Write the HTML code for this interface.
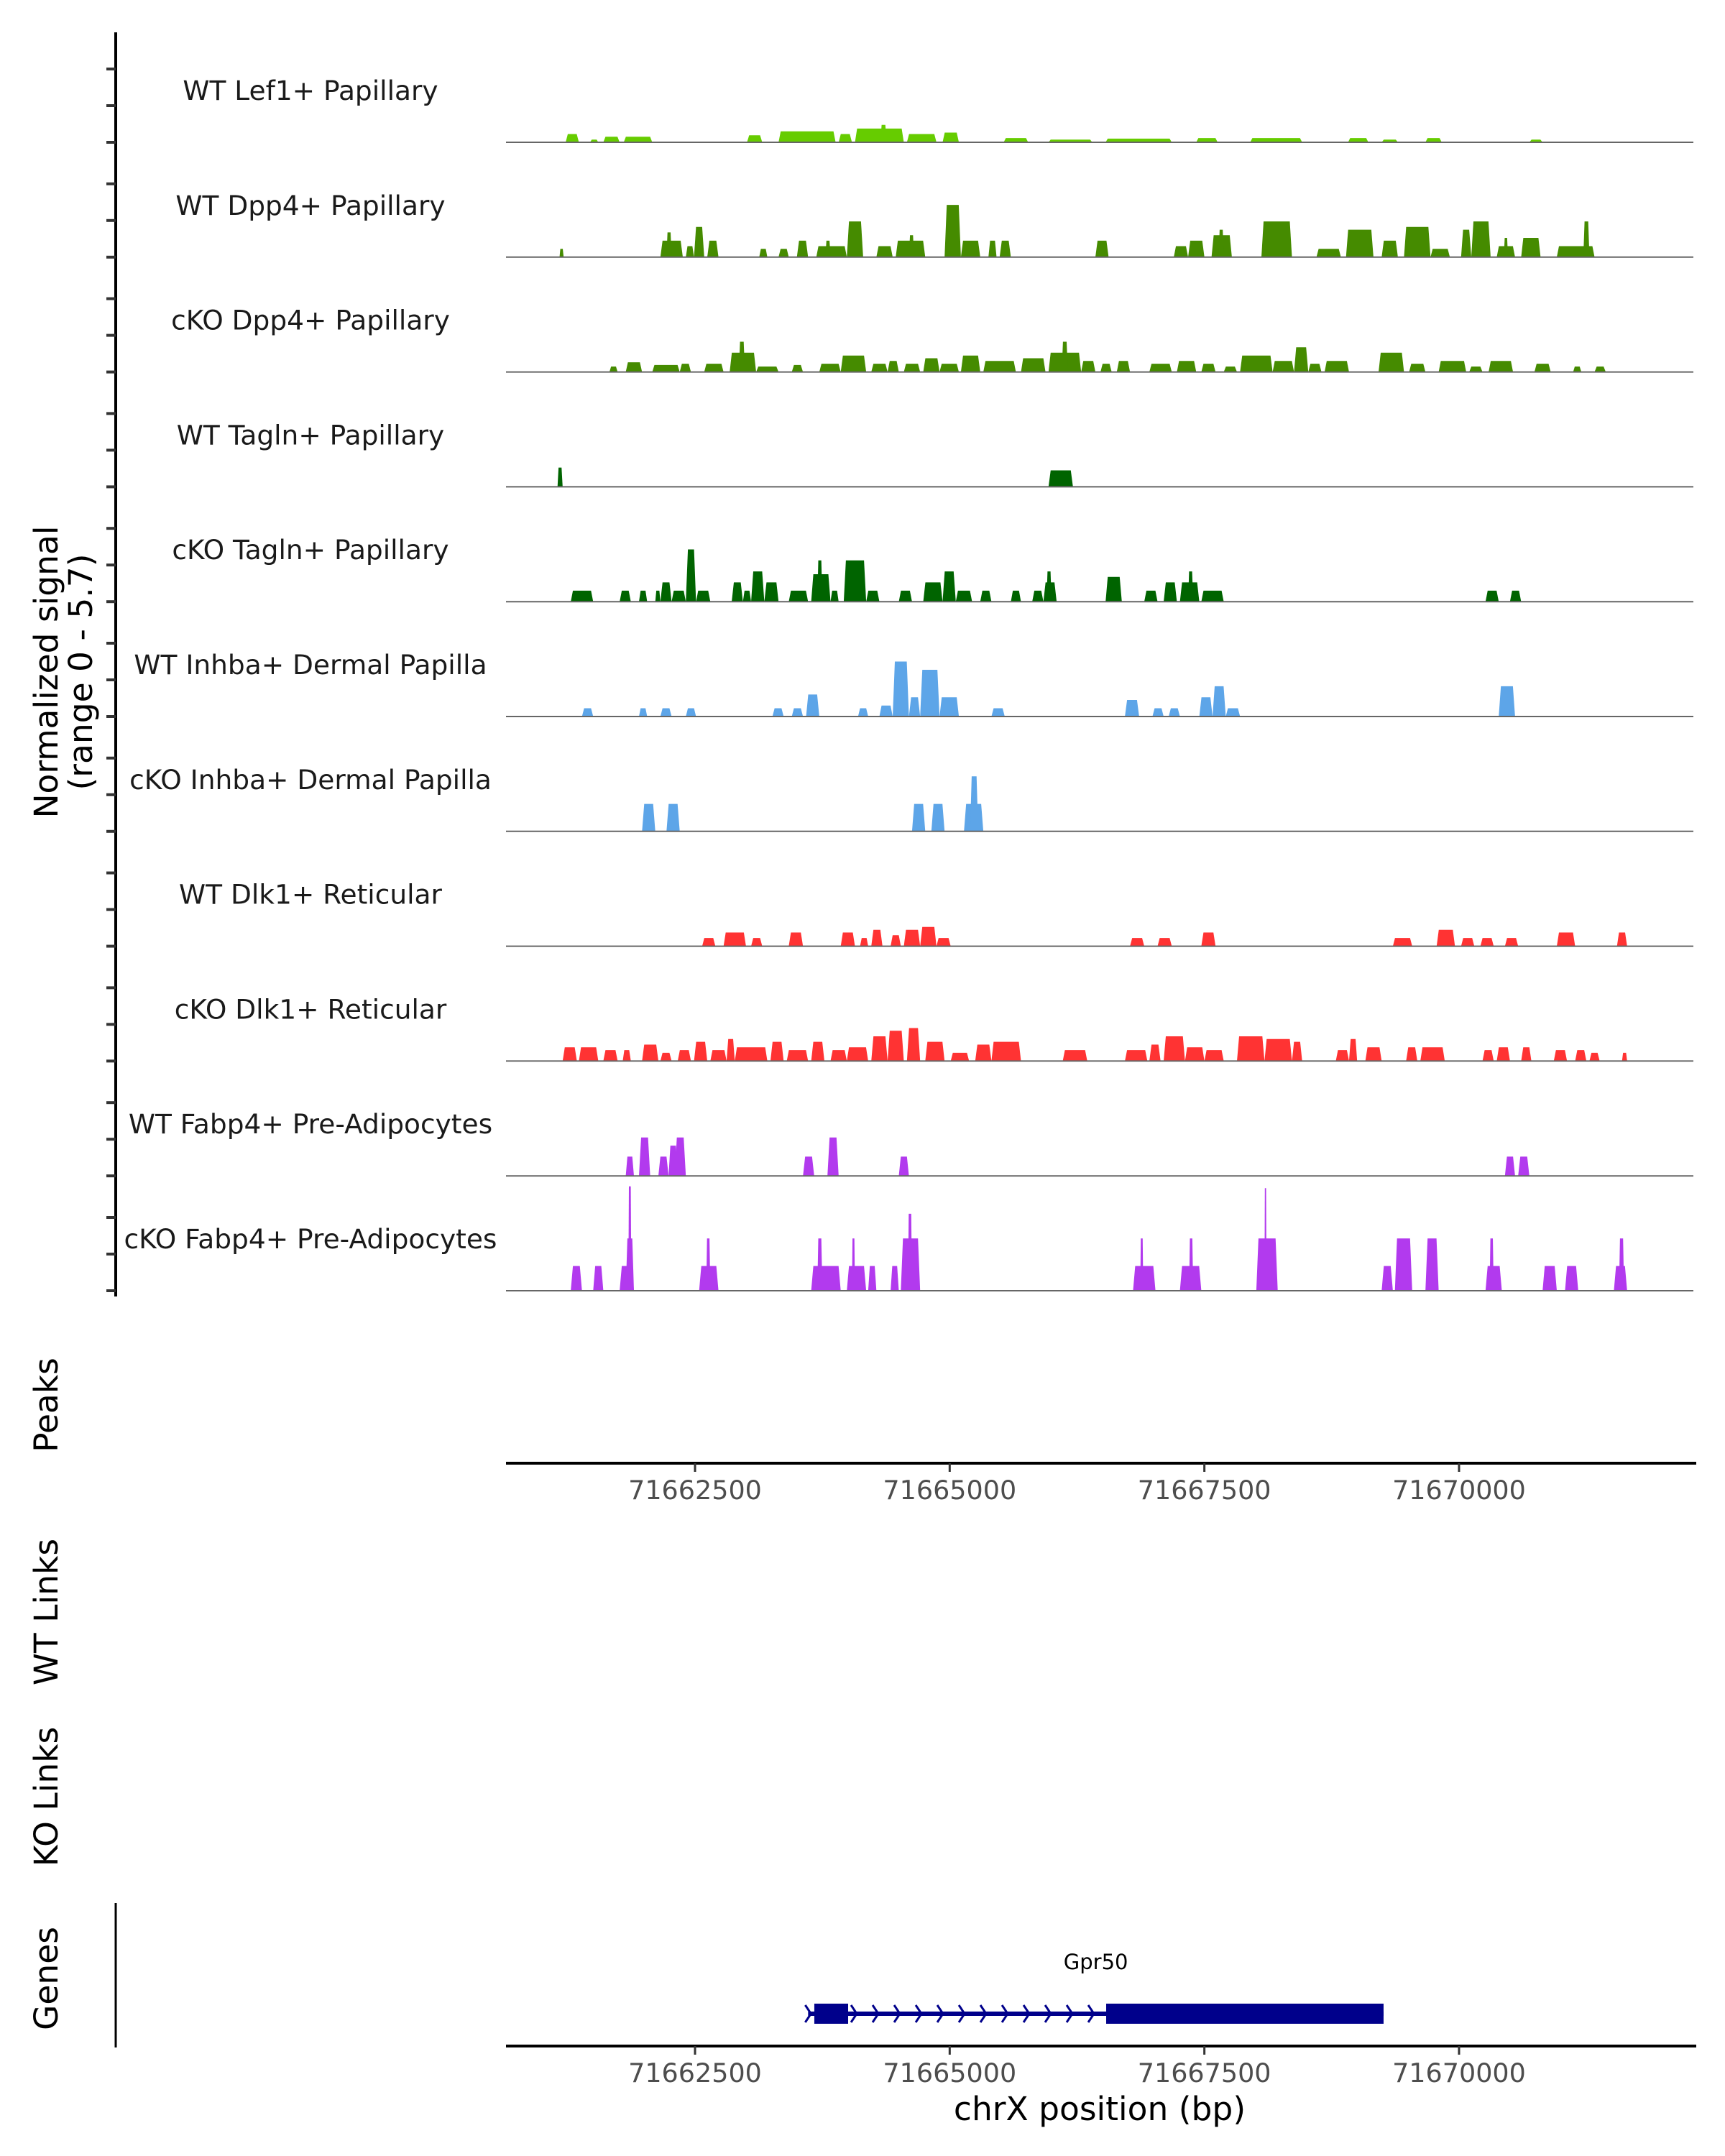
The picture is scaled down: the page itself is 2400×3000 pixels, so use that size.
<!DOCTYPE html>
<html><head><meta charset="utf-8">
<style>
html,body{margin:0;padding:0;background:#fff;}
svg{display:block;font-family:"DejaVu Sans","Liberation Sans",sans-serif;}
</style></head>
<body>
<svg id="chart" width="2400" height="3000" viewBox="0 0 2400 3000" xmlns="http://www.w3.org/2000/svg">
<rect width="2400" height="3000" fill="#fff"/>
<g id="tracks"></g>
<line x1="161" y1="45" x2="161" y2="1804" stroke="#000" stroke-width="4"/>
<g id="yticks"></g>
<text transform="translate(80,935) rotate(-90)" text-anchor="middle" font-size="45.5" fill="#000">Normalized signal</text>
<text transform="translate(128,935) rotate(-90)" text-anchor="middle" font-size="45.5" fill="#000">(range 0 - 5.7)</text>
<text transform="translate(80,1955) rotate(-90)" text-anchor="middle" font-size="45.5" fill="#000">Peaks</text>
<text transform="translate(80,2243) rotate(-90)" text-anchor="middle" font-size="45.5" fill="#000">WT Links</text>
<text transform="translate(80,2500) rotate(-90)" text-anchor="middle" font-size="45.5" fill="#000">KO Links</text>
<text transform="translate(80,2753) rotate(-90)" text-anchor="middle" font-size="45.5" fill="#000">Genes</text>
<line x1="161" y1="2648" x2="161" y2="2849" stroke="#000" stroke-width="3"/>
<line x1="704" y1="2036" x2="2360" y2="2036" stroke="#000" stroke-width="4"/>
<line x1="704" y1="2847" x2="2360" y2="2847" stroke="#000" stroke-width="4"/>
<g id="xaxes"></g>
<text x="1530" y="2950" text-anchor="middle" font-size="45.5" fill="#000">chrX position (bp)</text>
<g id="gene"></g>
</svg>
<script>
const NS="http://www.w3.org/2000/svg";
const trackNames=["WT Lef1+ Papillary","WT Dpp4+ Papillary","cKO Dpp4+ Papillary","WT Tagln+ Papillary","cKO Tagln+ Papillary","WT Inhba+ Dermal Papilla","cKO Inhba+ Dermal Papilla","WT Dlk1+ Reticular","cKO Dlk1+ Reticular","WT Fabp4+ Pre-Adipocytes","cKO Fabp4+ Pre-Adipocytes"];
const trackColors=["#66CC00","#458B00","#458B00","#006400","#006400","#5DA5E8","#5DA5E8","#FF3333","#FF3333","#B23AEE","#B23AEE"];
const xTicks=[71662500,71665000,71667500,71670000];
const yTickValues=[0,2,4];
// peaks: [startBp, endBp, value]
const lef1WT=[[71661230,71661360,0.45],[71661470,71661550,0.15],[71661600,71661760,0.3],[71661800,71662080,0.3],[71663010,71663160,0.38],[71663320,71663880,0.6],[71663910,71664040,0.45],[71664070,71664550,0.75],[71664320,71664380,0.95],[71664580,71664870,0.45],[71664930,71665090,0.53],[71665530,71665770,0.23],[71665970,71666400,0.15],[71666530,71667180,0.2],[71667420,71667630,0.23],[71667950,71668460,0.23],[71668910,71669110,0.23],[71669240,71669400,0.15],[71669670,71669830,0.23],[71670690,71670820,0.15]];
const dpp4WT=[[71661170,71661210,0.45],[71662160,71662380,0.9],[71662220,71662270,1.35],[71662410,71662490,0.6],[71662490,71662590,1.65],[71662620,71662730,0.9],[71663130,71663210,0.45],[71663320,71663420,0.45],[71663500,71663610,0.9],[71663690,71663990,0.6],[71663780,71663830,0.9],[71663990,71664150,1.95],[71664280,71664440,0.6],[71664470,71664760,0.9],[71664600,71664650,1.2],[71664950,71665110,2.85],[71665110,71665300,0.9],[71665380,71665460,0.9],[71665490,71665600,0.9],[71666430,71666560,0.9],[71667200,71667340,0.6],[71667340,71667500,0.9],[71667570,71667770,1.2],[71667640,71667690,1.5],[71668060,71668360,1.95],[71668600,71668840,0.45],[71668890,71669160,1.5],[71669240,71669400,0.9],[71669460,71669720,1.65],[71669720,71669910,0.45],[71670020,71670120,1.5],[71670120,71670310,1.95],[71670370,71670550,0.6],[71670440,71670480,1.05],[71670610,71670800,1.05],[71670960,71671330,0.6],[71671220,71671280,1.95]];
const dpp4KO=[[71661660,71661740,0.3],[71661820,71661980,0.53],[71662080,71662350,0.38],[71662350,71662460,0.45],[71662590,71662780,0.45],[71662840,71663100,1.05],[71662930,71662990,1.65],[71663100,71663320,0.3],[71663450,71663560,0.38],[71663720,71663930,0.45],[71663930,71664180,0.9],[71664230,71664390,0.45],[71664390,71664500,0.6],[71664550,71664710,0.45],[71664740,71664900,0.75],[71664900,71665090,0.45],[71665110,71665300,0.9],[71665330,71665650,0.6],[71665700,71665940,0.75],[71665970,71666290,1.05],[71666100,71666160,1.65],[71666290,71666430,0.6],[71666480,71666590,0.45],[71666640,71666770,0.6],[71666960,71667180,0.45],[71667230,71667420,0.6],[71667470,71667610,0.45],[71667690,71667820,0.3],[71667850,71668170,0.9],[71668170,71668380,0.6],[71668380,71668520,1.35],[71668520,71668650,0.45],[71668680,71668920,0.6],[71669210,71669460,1.05],[71669510,71669670,0.45],[71669800,71670070,0.6],[71670100,71670230,0.3],[71670290,71670530,0.6],[71670740,71670900,0.45],[71671120,71671200,0.3],[71671330,71671440,0.3]];
const taglnWT=[[71661150,71661200,1.05],[71665970,71666210,0.9]];
const taglnKO=[[71661280,71661500,0.6],[71661760,71661870,0.6],[71661950,71662030,0.6],[71662110,71662160,0.6],[71662160,71662270,1.05],[71662270,71662410,0.6],[71662410,71662510,2.85],[71662510,71662650,0.6],[71662860,71662970,1.05],[71662970,71663050,0.6],[71663050,71663180,1.65],[71663180,71663320,1.05],[71663420,71663610,0.6],[71663640,71663830,1.5],[71663700,71663750,2.25],[71663830,71663910,0.6],[71663960,71664180,2.25],[71664180,71664310,0.6],[71664500,71664630,0.6],[71664740,71664930,1.05],[71664930,71665060,1.65],[71665060,71665220,0.6],[71665300,71665410,0.6],[71665600,71665700,0.6],[71665810,71665920,0.6],[71665920,71666050,1.05],[71665950,71666000,1.65],[71666530,71666690,1.35],[71666910,71667040,0.6],[71667100,71667230,1.05],[71667260,71667450,1.05],[71667340,71667390,1.65],[71667470,71667690,0.6],[71670260,71670390,0.6],[71670500,71670610,0.6]];
const inhbaWT=[[71661390,71661500,0.45],[71661950,71662030,0.45],[71662160,71662270,0.45],[71662410,71662510,0.45],[71663260,71663370,0.45],[71663450,71663560,0.45],[71663590,71663720,1.2],[71664100,71664200,0.45],[71664310,71664440,0.6],[71664440,71664600,3.0],[71664600,71664710,1.05],[71664710,71664900,2.55],[71664900,71665090,1.05],[71665410,71665540,0.45],[71666720,71666860,0.9],[71666990,71667100,0.45],[71667150,71667260,0.45],[71667450,71667580,1.05],[71667580,71667710,1.65],[71667710,71667850,0.45],[71670390,71670550,1.65]];
const inhbaKO=[[71661980,71662110,1.5],[71662220,71662350,1.5],[71664630,71664760,1.5],[71664820,71664950,1.5],[71665140,71665330,1.5],[71665200,71665280,3.0]];
const dlk1WT=[[71662570,71662700,0.45],[71662780,71663000,0.75],[71663050,71663160,0.45],[71663420,71663560,0.75],[71663930,71664070,0.75],[71664120,71664200,0.45],[71664230,71664340,0.9],[71664420,71664520,0.6],[71664550,71664710,0.9],[71664710,71664870,1.05],[71664870,71665010,0.45],[71666770,71666910,0.45],[71667040,71667180,0.45],[71667470,71667610,0.75],[71669350,71669540,0.45],[71669780,71669960,0.9],[71670020,71670150,0.45],[71670210,71670340,0.45],[71670450,71670580,0.45],[71670960,71671140,0.75],[71671550,71671650,0.75]];
const dlk1KO=[[71661200,71661340,0.75],[71661360,71661550,0.75],[71661600,71661740,0.6],[71661790,71661870,0.6],[71661980,71662140,0.9],[71662160,71662270,0.45],[71662330,71662460,0.6],[71662490,71662620,1.05],[71662650,71662810,0.6],[71662810,71662890,1.2],[71662890,71663210,0.75],[71663240,71663370,1.05],[71663400,71663610,0.6],[71663640,71663770,1.05],[71663830,71663990,0.6],[71663990,71664200,0.75],[71664230,71664390,1.35],[71664390,71664550,1.65],[71664580,71664710,1.8],[71664760,71664950,1.05],[71665010,71665190,0.45],[71665250,71665410,0.9],[71665410,71665700,1.05],[71666110,71666350,0.6],[71666720,71666940,0.6],[71666960,71667070,0.9],[71667100,71667310,1.35],[71667310,71667500,0.75],[71667500,71667690,0.6],[71667820,71668090,1.35],[71668090,71668360,1.2],[71668360,71668460,1.05],[71668790,71668920,0.6],[71668920,71669000,1.2],[71669080,71669240,0.75],[71669480,71669590,0.75],[71669620,71669860,0.75],[71670230,71670340,0.6],[71670370,71670500,0.75],[71670610,71670710,0.75],[71670930,71671060,0.6],[71671140,71671250,0.6],[71671280,71671380,0.45],[71671600,71671650,0.45]];
const fabp4WT=[[71661820,71661900,1.05],[71661950,71662060,2.1],[71662140,71662240,1.05],[71662240,71662330,1.65],[71662300,71662410,2.1],[71663560,71663670,1.05],[71663800,71663910,2.1],[71664500,71664600,1.05],[71670450,71670550,1.05],[71670580,71670690,1.05]];
const fabp4KO=[[71661280,71661390,1.35],[71661500,71661600,1.35],[71661760,71661900,1.35],[71661820,71661900,2.85],[71661845,71661875,5.7],[71662540,71662730,1.35],[71662610,71662650,2.85],[71663640,71663930,1.35],[71663700,71663750,2.85],[71663990,71664180,1.35],[71664040,71664070,2.85],[71664200,71664280,1.35],[71664420,71664500,1.35],[71664520,71664710,2.85],[71664590,71664630,4.2],[71666800,71667020,1.35],[71666870,71666900,2.85],[71667260,71667470,1.35],[71667350,71667390,2.85],[71668010,71668220,2.85],[71668090,71668110,5.6],[71669240,71669350,1.35],[71669370,71669540,2.85],[71669670,71669800,2.85],[71670260,71670420,1.35],[71670300,71670340,2.85],[71670820,71670960,1.35],[71671040,71671170,1.35],[71671520,71671650,1.35],[71671570,71671620,2.85]];
const trackData=[lef1WT,dpp4WT,dpp4KO,taglnWT,taglnKO,inhbaWT,inhbaKO,dlk1WT,dlk1KO,fabp4WT,fabp4KO];
const geneName="Gpr50";
const geneExons=[[71663671,71664003],[71666536,71669259]];
const geneStart=71663610, geneEnd=71669259;

const X0=704,X1=2356;
function xScale(bp){return 967+(bp-71662500)*0.14173;}
const PX_PER_UNIT=25.5;
function baseY(i){return 198+i*159.8;}
function yScale(i,v){return baseY(i)-v*PX_PER_UNIT;}
function mk(tag,attrs,parent){const e=document.createElementNS(NS,tag);for(const k in attrs)e.setAttribute(k,attrs[k]);parent.appendChild(e);return e;}

const tracksG=document.getElementById('tracks');
const ytG=document.getElementById('yticks');
trackNames.forEach((name,i)=>{
  const g=mk('g',{},tracksG);
  
  
  const lbl=mk('text',{x:432,y:(baseY(i)-59).toFixed(1),'text-anchor':'middle','font-size':37.5,fill:'#1a1a1a'},g);
  lbl.textContent=name;
  
  
  trackData[i].forEach(p=>{
    const xs=xScale(p[0]),xe=xScale(p[1]);
    const w=xe-xs,r=Math.min(w*0.2,3);
    const b=baseY(i),t=yScale(i,p[2]);
    const poly=mk('polygon',{points:`${xs.toFixed(1)},${b} ${(xs+r).toFixed(1)},${t.toFixed(1)} ${(xe-r).toFixed(1)},${t.toFixed(1)} ${xe.toFixed(1)},${b}`,fill:trackColors[i]},g);
    
    
  });
  const bl=mk('line',{x1:X0,x2:X1,y1:baseY(i),y2:baseY(i),stroke:'#666','stroke-width':2},g);
  
  
  yTickValues.forEach(v=>{
    const tk=mk('line',{x1:148,x2:161,y1:yScale(i,v),y2:yScale(i,v),stroke:'#333','stroke-width':4},ytG);
    
    
  });
});

const xa=document.getElementById('xaxes');
[2036,2847].forEach(ay=>{
  xTicks.forEach(t=>{
    const x=xScale(t);
    const tl=mk('line',{x1:x,x2:x,y1:ay,y2:ay+12,stroke:'#333','stroke-width':3},xa);
    
    
    const tx=mk('text',{x:x,y:ay+50,'text-anchor':'middle','font-size':36.5,fill:'#4d4d4d'},xa);
    tx.textContent=String(t);
    
    
  });
});

const gg=document.getElementById('gene');
const gy=2802;
const gl=mk('text',{x:xScale((geneStart+geneEnd)/2),y:2740,'text-anchor':'middle','font-size':29,fill:'#000'},gg);
gl.textContent=geneName;


const il=mk('line',{x1:xScale(geneStart),x2:xScale(geneEnd),y1:gy,y2:gy,stroke:'#00008B','stroke-width':6},gg);


for(let x=xScale(geneExons[0][1])+8;x<xScale(geneExons[1][0])-8;x+=30){
  const c=mk('polyline',{points:`${x-4},${gy-12} ${x+4},${gy} ${x-4},${gy+12}`,fill:'none',stroke:'#00008B','stroke-width':3},gg);
  
  
}
const sx=xScale(geneStart);
const sm=mk('polyline',{points:`${sx-4},${gy-12} ${sx+4},${gy} ${sx-4},${gy+12}`,fill:'none',stroke:'#00008B','stroke-width':3},gg);


geneExons.forEach(ex=>{
  const r=mk('rect',{x:xScale(ex[0]),y:gy-14,width:xScale(ex[1])-xScale(ex[0]),height:28,fill:'#00008B'},gg);
  
  
});
</script>
</body></html>
